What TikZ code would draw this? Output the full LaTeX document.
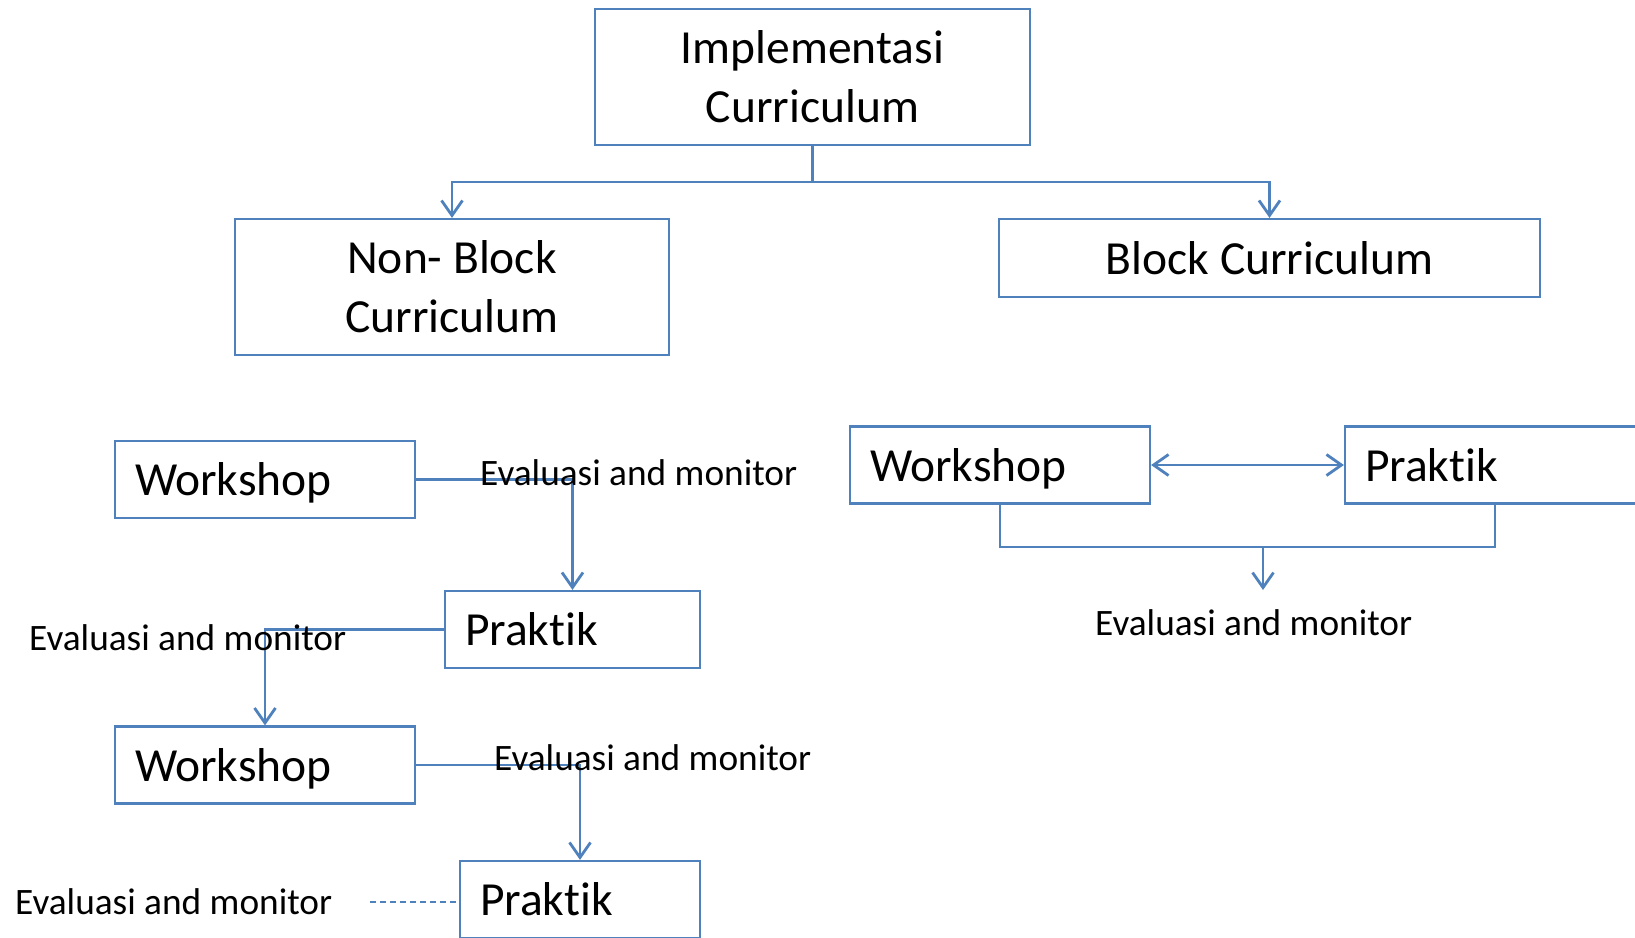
\documentclass[tikz,border=0pt]{standalone}
\usepackage{fontspec}
\setmainfont{Carlito}[Ligatures={NoCommon}]
\usetikzlibrary{arrows.meta}
\definecolor{frame}{RGB}{79,129,189}
\begin{document}
\begin{tikzpicture}[x=1pt,y=-1pt,
  box/.style={draw=frame,line width=2.2pt,inner sep=0pt,font=\fontsize{47.5}{59}\selectfont},
  cbox/.style={box,align=center,minimum width=#1},
  lbox/.style={box,inner xsep=20pt,inner ysep=0pt,minimum height=77pt,text width=#1,align=left,text height=32pt,text depth=0pt},
  conn/.style={draw=frame,line width=2.8pt},
  arr/.style={conn,-{Straight Barb[length=15pt,width=21pt]}},
  lab/.style={inner sep=0pt,font=\fontsize{37.3}{44}\selectfont,anchor=base west}]
\useasboundingbox (0,0) rectangle (1635,937);
\clip (0,0) rectangle (1635,937);

% top level
\node[cbox=435pt,minimum height=136pt] (impl) at (812.5,77) {Implementasi\\Curriculum};
\node[cbox=434pt,minimum height=136pt] (nb) at (452,287) {Non- Block\\Curriculum};
\node[cbox=541pt,minimum height=78pt,text height=32pt,text depth=0pt] (bc) at (1269.5,258) {Block Curriculum};

\coordinate (split) at (812.5,182);
\draw[conn] (impl.south) -- (split);
\draw[arr] (split) -| (nb.north);
\draw[arr] (split) -| (bc.north);

% non-block sequence
\node[lbox=260pt] (w1) at (265,479.5) {Workshop};
\node[lbox=215pt] (p1) at (572.5,629.5) {Praktik};
\node[lbox=260pt] (w2) at (265,765) {Workshop};
\node[lbox=200pt] (p2) at (580,899.5) {Praktik};

\draw[arr] (w1.east) -| (p1.north);
\draw[arr] (p1.west) -| (w2.north);
\draw[arr] (w2.east) -| (p2.north);
\coordinate (dl) at (370,902);
\draw[draw=frame,line width=1.7pt,dash pattern=on 6pt off 4pt] (dl) -- (dl -| p2.west);

% block sequence
\node[lbox=260pt] (w3) at (1000,465) {Workshop};
\node[lbox=260pt] (p3) at (1495,465) {Praktik};
\draw[conn,{Straight Barb[length=15pt,width=21pt]}-{Straight Barb[length=15pt,width=21pt]}] (w3.east) -- (p3.west);
\coordinate (jn) at (1263,547);
\coordinate (ev) at (1263,590);
\draw[conn] (w3.south) |- (jn) -| (p3.south);
\draw[arr] (jn) -- (ev);

% evaluation labels
\node[lab] (e1) at (480,485) {Evaluasi and monitor};
\node[lab] (e2) at (29,650) {Evaluasi and monitor};
\node[lab] (e3) at (494,770) {Evaluasi and monitor};
\node[lab] (e4) at (15,914) {Evaluasi and monitor};
\node[lab] (e5) at (1095,635) {Evaluasi and monitor};
\end{tikzpicture}
\end{document}
